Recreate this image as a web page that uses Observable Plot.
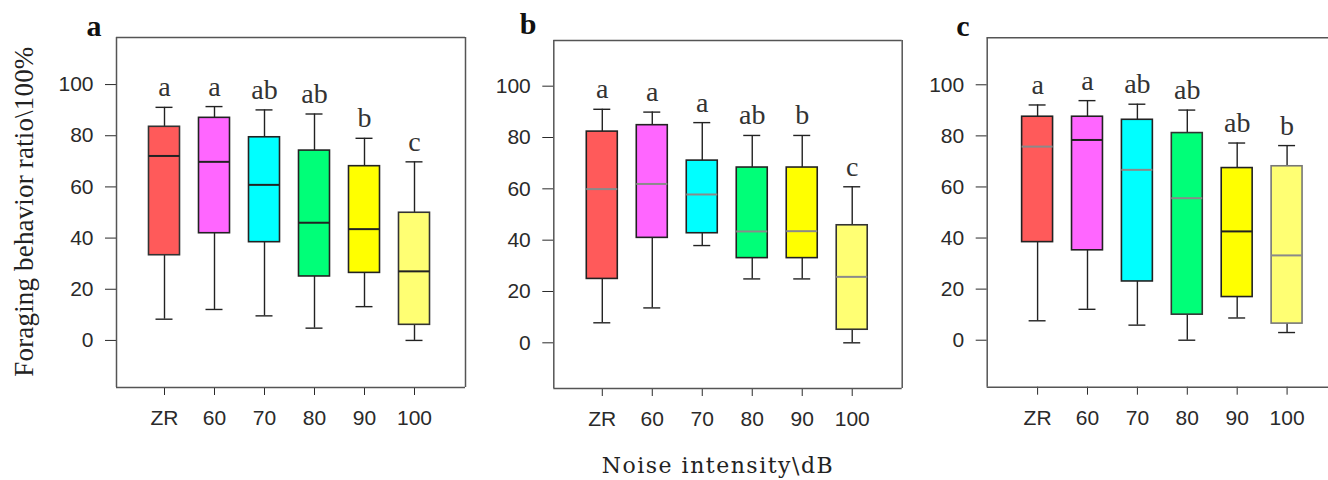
<!DOCTYPE html>
<html><head><meta charset="utf-8">
<script src="https://cdn.jsdelivr.net/npm/d3@7"></script>
<script src="https://cdn.jsdelivr.net/npm/@observablehq/plot@0.6"></script>
<style>
html,body{margin:0;padding:0;background:#fff;overflow:hidden;width:1328px;height:480px;}
#wrap{position:relative;width:1328px;height:480px;overflow:hidden;}
.panel{position:absolute;top:0;max-width:none !important;}
#titles{position:absolute;left:0;top:0;pointer-events:none;}
</style></head><body>
<div id="wrap">
<svg id="titles" width="1328" height="480">
  <text x="601.7" y="473.3" font-family="'DejaVu Serif', 'Liberation Serif', serif" font-size="22" textLength="231" lengthAdjust="spacing" fill="#222">Noise intensity\dB</text>
  <text transform="translate(33,376.7) rotate(-90)" font-family="'Liberation Serif', 'Times New Roman', serif" font-size="27" textLength="330" lengthAdjust="spacing" fill="#222">Foraging behavior ratio\100%</text>
</svg>
</div>
<script>
// ---- data ----
const groups = ["ZR", "60", "70", "80", "90", "100"];
const yTicks = [0, 20, 40, 60, 80, 100];

// Panel a
const aLow  = [8.3, 12.1, 9.6, 4.8, 13.2, 0];
const aQ1   = [33.3, 41.9, 38.4, 25.0, 26.4, 6.1];
const aMed  = [72.1, 69.8, 60.8, 46.0, 43.5, 27.0];
const aQ3   = [83.5, 87.0, 79.4, 74.2, 68.1, 49.9];
const aHigh = [91.1, 91.4, 90.1, 88.5, 79.0, 69.8];
const aLetters = ["a", "a", "ab", "ab", "b", "c"];

// Panel b
const bLow  = [7.8, 13.6, 37.9, 24.9, 24.9, 0];
const bQ1   = [24.9, 40.9, 42.7, 33.0, 33.0, 5.1];
const bMed  = [59.9, 61.9, 57.8, 43.4, 43.5, 25.7];
const bQ3   = [82.3, 84.8, 71.0, 68.3, 68.3, 45.8];
const bHigh = [91.0, 89.9, 85.8, 80.8, 80.8, 60.8];
const bLetters = ["a", "a", "a", "ab", "b", "c"];

// Panel c
const cLow  = [7.6, 12.1, 5.9, 0, 8.7, 3.0];
const cQ1   = [38.4, 35.2, 23.0, 10.0, 16.9, 6.5];
const cMed  = [75.8, 78.4, 66.7, 55.6, 42.6, 33.2];
const cQ3   = [87.5, 87.5, 86.3, 81.1, 67.4, 68.1];
const cHigh = [92.1, 93.8, 92.4, 90.1, 77.2, 76.2];
const cLetters = ["a", "a", "ab", "ab", "ab", "b"];

// ---- styles ----
const boxFills = ["#FF5A5A", "#FF66FF", "#00FFFF", "#00FF78", "#FFFF00", "#FFFF73"];
const medA = ["#222", "#222", "#222", "#222", "#222", "#222"];
const medB = ["#8a8a8a", "#8a8a8a", "#8a8a8a", "#8a8a8a", "#8a8a8a", "#8a8a8a"];
const medC = ["#8a8a8a", "#222", "#8a8a8a", "#8a8a8a", "#222", "#8a8a8a"];
const boxStrokeA = ["#333", "#222", "#222", "#222", "#222", "#333"];
const boxStrokeB = ["#222", "#222", "#222", "#222", "#222", "#333"];
const boxStrokeC = ["#222", "#222", "#222", "#333", "#222", "#777"];

function rows(low, q1, med, q3, high, letters, med_s, box_s) {
  return groups.map((g, i) => ({
    x: i + 1, group: g, low: low[i], q1: q1[i], med: med[i], q3: q3[i], high: high[i],
    letter: letters[i], fill: boxFills[i], medStroke: med_s[i], boxStroke: box_s[i]
  }));
}

const panels = [
  {id: "a", data: rows(aLow, aQ1, aMed, aQ3, aHigh, aLetters, medA, boxStrokeA),
   left: 0, width: 470, mL: 116, mR: 5, mT: 37, mB: 53, xd: [0.04, 7.02], yd: [-18.4, 118.4], ldx: -30, ldy: -2, rightEdge: true},
  {id: "b", data: rows(bLow, bQ1, bMed, bQ3, bHigh, bLetters, medB, boxStrokeB),
   left: 480, width: 430, mL: 73.3, mR: 8.3, mT: 40, mB: 52, xd: [0.03, 7.0], yd: [-17.8, 117.8], ldx: -34, ldy: -7, rightEdge: true},
  {id: "c", data: rows(cLow, cQ1, cMed, cQ3, cHigh, cLetters, medC, boxStrokeC),
   left: 910, width: 418, mL: 76.7, mR: 0, mT: 37.3, mB: 53.3, xd: [-0.01, 6.83], yd: [-18.4, 118.4], ldx: -31, ldy: -2, rightEdge: false}
];

const serif = "'Liberation Serif', 'Times New Roman', serif";
const boxHalf = 0.31, capHalf = 0.17;

for (const p of panels) {
  const edge = {stroke: "#555", strokeWidth: 1.5};
  const marks = [Plot.ruleY([p.yd[0], p.yd[1]], edge), Plot.ruleX([p.xd[0]], edge)];
  if (p.rightEdge) marks.push(Plot.ruleX([p.xd[1]], edge));
  marks.push(
    Plot.ruleX(p.data, {x: "x", y1: "low", y2: "q1", stroke: "#222", strokeWidth: 1.4}),
    Plot.ruleX(p.data, {x: "x", y1: "q3", y2: "high", stroke: "#222", strokeWidth: 1.4}),
    Plot.ruleY(p.data, {y: "low", x1: d => d.x - capHalf, x2: d => d.x + capHalf, stroke: "#222", strokeWidth: 1.4}),
    Plot.ruleY(p.data, {y: "high", x1: d => d.x - capHalf, x2: d => d.x + capHalf, stroke: "#222", strokeWidth: 1.4}),
    Plot.rect(p.data, {x1: d => d.x - boxHalf, x2: d => d.x + boxHalf, y1: "q1", y2: "q3", fill: "fill", stroke: "boxStroke", strokeWidth: 1.6}),
    Plot.ruleY(p.data, {y: "med", x1: d => d.x - boxHalf, x2: d => d.x + boxHalf, stroke: "medStroke", strokeWidth: 2}),
    Plot.text(p.data, {x: "x", y: "high", text: "letter", lineAnchor: "bottom", dy: -11, fontFamily: serif, fontSize: 28, fill: "#333"}),
    Plot.text([p.id], {frameAnchor: "top-left", text: d => d, textAnchor: "start", lineAnchor: "bottom", dx: p.ldx, dy: p.ldy, fontFamily: serif, fontSize: 30, fontWeight: "bold", fill: "#111"})
  );
  const chart = Plot.plot({
    width: p.width, height: 440,
    marginLeft: p.mL, marginRight: p.mR, marginTop: p.mT, marginBottom: p.mB,
    x: {domain: p.xd, ticks: groups.map((g, i) => i + 1), tickFormat: v => groups[v - 1], tickSize: 8, tickPadding: 15, label: null},
    y: {domain: p.yd, ticks: yTicks, tickSize: 11, tickPadding: 12, label: null},
    color: {type: "identity"},
    style: {fontFamily: "'Liberation Sans', Arial, sans-serif", fontSize: "21px", color: "#2a2a2a", background: "transparent", maxWidth: "none"},
    marks
  });
  chart.classList.add("panel");
  chart.style.left = p.left + "px";
  document.getElementById("wrap").appendChild(chart);
}
</script>
</body></html>
